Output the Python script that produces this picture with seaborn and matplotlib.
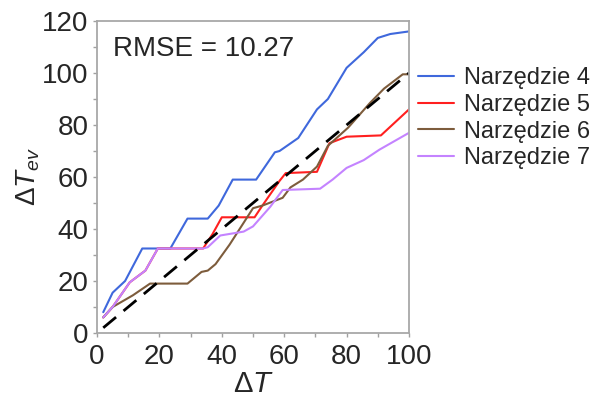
import matplotlib
matplotlib.use("Agg")
import matplotlib.pyplot as plt
import seaborn as sns
import pandas as pd
from matplotlib.ticker import MultipleLocator

# ---- data ----
series_names = ["Narzędzie 4", "Narzędzie 5", "Narzędzie 6", "Narzędzie 7"]
x4 = [2, 5, 9, 14.5, 23.5, 29, 35.5, 39, 43.5, 51, 57, 58.5, 64.5, 70.5, 74, 80, 85.5, 90, 94, 100]
y4 = [8, 15.5, 20, 32.5, 32.5, 44, 44, 49, 59, 59, 69.5, 70, 75, 86, 90, 102, 108, 113.5, 115, 116]
x5 = [2, 5, 10.5, 15.5, 19.5, 34, 37, 40, 50.5, 53, 58.5, 60.5, 70.5, 74.5, 80, 91, 100]
y5 = [6, 10, 19.5, 24, 32.5, 32.5, 38, 44.5, 44.5, 49, 58.5, 61.5, 62, 73, 75.5, 76, 86]
x6 = [2, 5, 11.5, 17, 29, 33.5, 35.5, 38, 42.5, 50, 53, 59.5, 62, 66, 70.5, 74, 80.5, 87.5, 92, 98, 100]
y6 = [6, 10, 14.5, 19, 19, 23.5, 24, 26.5, 34, 48, 49, 52, 56, 59, 64, 72, 79, 88.5, 94, 99.5, 99.5]
x7 = [2, 5, 10.5, 15.5, 19.5, 34, 35.5, 39.5, 47, 50, 55.5, 59.5, 71.5, 75.5, 80, 85.5, 90.5, 100]
y7 = [6, 10, 19.5, 24, 32.5, 32.5, 33, 37.5, 39, 41, 48.5, 55, 55.5, 59, 63.5, 66.5, 70.5, 77]
ref_x = [2, 100]
ref_y = [2, 100]
rmse_text = "RMSE = 10.27"
x_ticks = [0, 20, 40, 60, 80, 100]
y_ticks = [0, 20, 40, 60, 80, 100, 120]

colors = ["#3f68dc", "#ff1f1f", "#7d5c3c", "#c483ff"]

frames = []
for name, xs, ys in zip(series_names, [x4, x5, x6, x7], [y4, y5, y6, y7]):
    frames.append(pd.DataFrame({"x": xs, "y": ys, "series": name}))
df = pd.concat(frames, ignore_index=True)

sns.set_style("white")
plt.rcParams["font.family"] = ["Liberation Sans", "DejaVu Sans"]
plt.rcParams["mathtext.fontset"] = "custom"
plt.rcParams["mathtext.rm"] = "Liberation Sans"
plt.rcParams["mathtext.it"] = "Liberation Sans:italic"

fig = plt.figure(figsize=(5.97, 4.01), dpi=100)
ax = fig.add_axes([0.1625, 0.1696, 0.5226, 0.778])

sns.lineplot(data=df, x="x", y="y", hue="series", hue_order=series_names,
             palette=colors, estimator=None, sort=False, linewidth=1.5, ax=ax)
sns.lineplot(x=ref_x, y=ref_y, color="black", linewidth=2.0, ax=ax,
             linestyle=(0, (6, 3.5)), legend=False)

ax.set_xlim(0, 100)
ax.set_ylim(0, 120)
ax.set_xticks(x_ticks)
ax.set_yticks(y_ticks)
ax.xaxis.set_minor_locator(MultipleLocator(10))
ax.yaxis.set_minor_locator(MultipleLocator(10))
ax.tick_params(which="both", direction="out", length=3, width=1, color="#a0a0a0",
               bottom=True, left=True)
ax.tick_params(which="major", labelsize=20)
ax.tick_params(axis="x", which="major", pad=5)
ax.tick_params(axis="y", which="major", pad=3)
for s in ax.spines.values():
    s.set_color("#a8a8a8")
    s.set_linewidth(1.3)

ax.set_xlabel(r"$\Delta T$", fontsize=21, labelpad=0)
ax.set_ylabel(r"$\Delta T_{ev}$", fontsize=20, labelpad=0)

ax.text(0.05, 0.952, rmse_text, transform=ax.transAxes, fontsize=20,
        ha="left", va="top")

handles, labels = ax.get_legend_handles_labels()
ax.legend(handles[:4], labels[:4], loc="upper left", bbox_to_anchor=(1.0, 0.882),
          frameon=False, fontsize=17, handlelength=1.5, handletextpad=0.42,
          labelspacing=0.2, borderaxespad=0.0)

fig.savefig("out.png", dpi=100)
